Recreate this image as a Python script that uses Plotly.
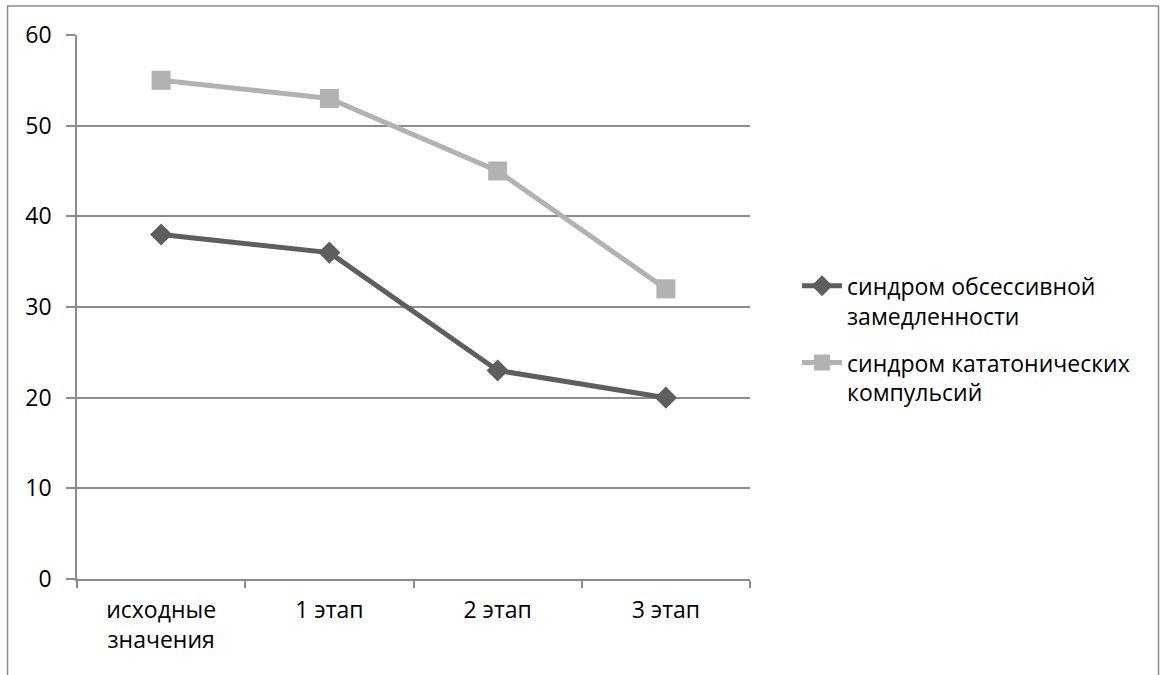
import plotly.graph_objects as go

categories = ["исходные<br>значения", "1 этап", "2 этап", "3 этап"]
series1_name = "синдром обсессивной<br>замедленности"
series1_values = [38, 36, 23, 20]
series2_name = "синдром кататонических<br>компульсий"
series2_values = [55, 53, 45, 32]
y_ticks = [0, 10, 20, 30, 40, 50, 60]

W, H = 1162, 675
L, R, T, B = 77, 750, 34.5, 579

fig = go.Figure()
fig.add_trace(go.Scatter(
    x=categories, y=series1_values, name=series1_name, mode="lines+markers",
    legendgroup="g1",
    line=dict(color="#5e5e5e", width=5),
    marker=dict(symbol="diamond", size=17, color="#5e5e5e"),
))
fig.add_trace(go.Scatter(
    x=categories, y=series2_values, name=series2_name, mode="lines+markers",
    legendgroup="g2",
    line=dict(color="#b2b2b2", width=5),
    marker=dict(symbol="square", size=19, color="#b2b2b2"),
))

pw = R - L
ph = B - T
def px_x(p):
    return (p - L) / pw
def px_y(p):
    return (B - p) / ph

fig.add_shape(type="rect", xref="paper", yref="paper",
              x0=px_x(7.5), x1=px_x(1158.5), y0=px_y(700), y1=px_y(5.5),
              line=dict(color="#8a8a8a", width=1.5), fillcolor="rgba(0,0,0,0)", layer="below")

font = "Open Sans, Liberation Sans, sans-serif"
FS = 23
fig.update_layout(
    width=W, height=H,
    margin=dict(l=L, r=W - R, t=T, b=H - B),
    paper_bgcolor="white", plot_bgcolor="white",
    font=dict(family=font, size=FS, color="black"),
    showlegend=True,
    legend=dict(x=px_x(797), y=px_y(264), xanchor="left", yanchor="top",
                font=dict(size=FS, family=font), tracegroupgap=14,
                valign="top", itemwidth=40,
                bgcolor="rgba(0,0,0,0)"),
    xaxis=dict(
        type="category", range=[-0.5, 3.5], showgrid=False,
        showline=True, linecolor="#8c8c8c", linewidth=1.5,
        ticks="outside", tickson="boundaries", ticklen=7, tickcolor="#8c8c8c", tickwidth=1.5,
        tickfont=dict(size=FS, family=font), fixedrange=True, ticklabelstandoff=10,
    ),
    yaxis=dict(
        range=[0, 60], tickvals=y_ticks, showgrid=True, gridcolor="#8c8c8c", gridwidth=1.5,
        showline=True, linecolor="#8c8c8c", linewidth=1.5,
        ticks="outside", ticklen=9, tickcolor="#8c8c8c", tickwidth=1.5,
        tickfont=dict(size=FS, family=font), zeroline=False, ticklabelstandoff=10,
    ),
)

fig.write_html("out.html")
